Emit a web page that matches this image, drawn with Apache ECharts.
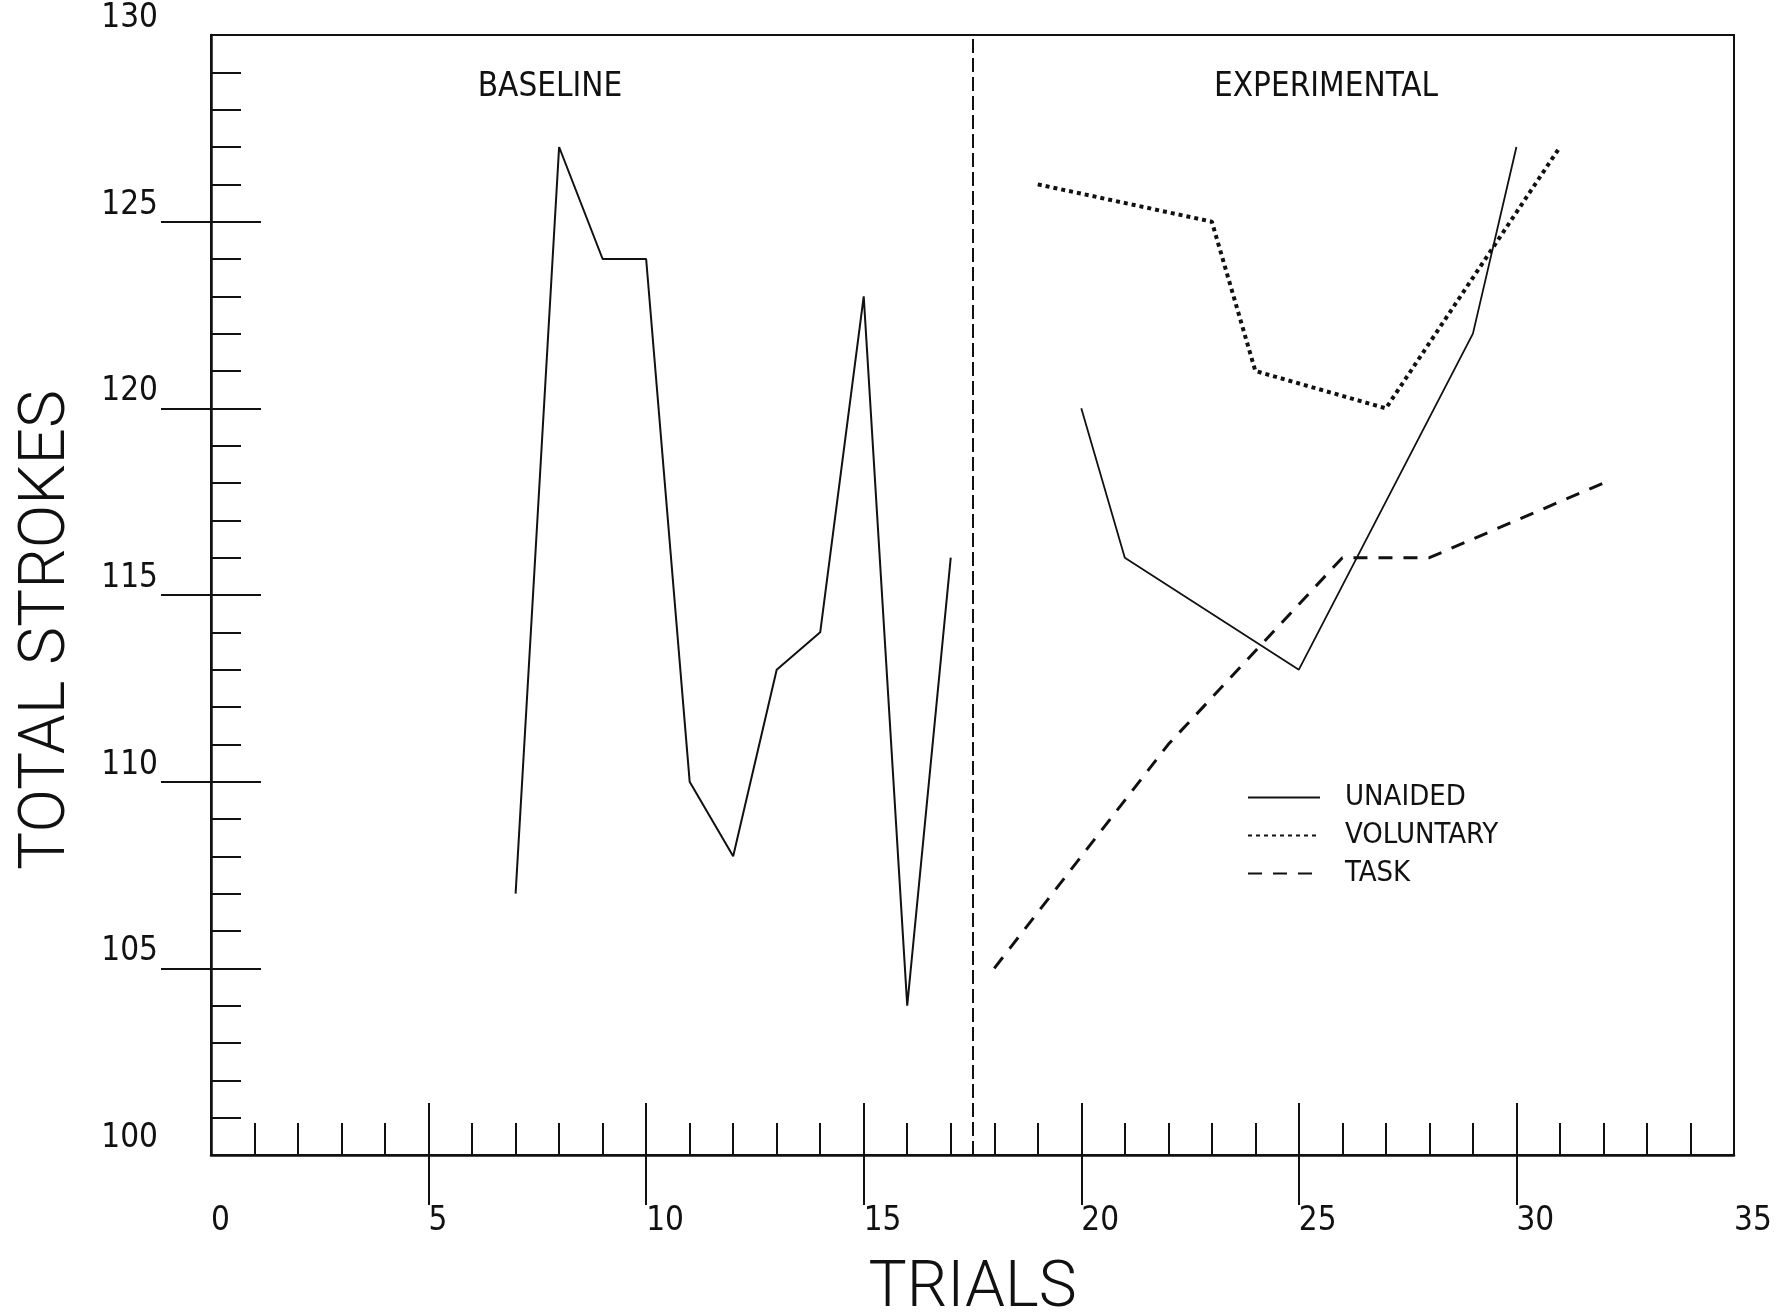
<!DOCTYPE html>
<html>
<head>
<meta charset="utf-8">
<script src="https://cdn.jsdelivr.net/npm/echarts@6/dist/echarts.min.js"></script>
<style>
html,body{margin:0;padding:0;background:#fff;}
#chart{width:1781px;height:1313px;}
</style>
</head>
<body>
<div id="chart"></div>
<script>
// ---- data ----
const trialTickLabels = [0, 5, 10, 15, 20, 25, 30, 35];
const trialMajorTicks = [5, 10, 15, 20, 25, 30];
const strokeTickLabels = [100, 105, 110, 115, 120, 125, 130];
const strokeMajorTicks = [105, 110, 115, 120, 125];

const baselineTrials  = [7, 8, 9, 10, 11, 12, 13, 14, 15, 16, 17];
const baselineStrokes = [107, 127, 124, 124, 110, 108, 113, 114, 123, 104, 116];

const unaidedTrials  = [20, 21, 25, 29, 30];
const unaidedStrokes = [120, 116, 113, 122, 127];

const voluntaryTrials  = [19, 23, 24, 27, 31];
const voluntaryStrokes = [126, 125, 121, 120, 127];

const taskTrials  = [18, 22, 26, 28, 32];
const taskStrokes = [105, 111, 116, 116, 118];

const phaseBoundary = 17.5;
const phaseNames = ['BASELINE', 'EXPERIMENTAL'];
const seriesNames = ['UNAIDED', 'VOLUNTARY', 'TASK'];

// ---- helpers ----
const pairs = (xs, ys) => xs.map((x, i) => [x, ys[i]]);
const NARROW = "'Liberation Sans Narrow','DejaVu Sans Condensed','Arial Narrow',sans-serif";
const THIN = "Roboto, 'DejaVu Sans', sans-serif";
const INK = '#111';

const chart = echarts.init(document.getElementById('chart'), null, {renderer: 'canvas'});

const option = {
  backgroundColor: '#fff',
  animation: false,
  title: [
    {text: phaseNames[0], left: 545, top: 66, textAlign: 'center',
     textStyle: {fontFamily: NARROW, fontSize: 33, fontWeight: 'normal', color: INK}},
    {text: phaseNames[1], left: 1321, top: 66, textAlign: 'center',
     textStyle: {fontFamily: NARROW, fontSize: 33, fontWeight: 'normal', color: INK}}
  ],
  grid: {
    left: 211, top: 35, right: 47, bottom: 158,
    show: true, borderColor: INK, borderWidth: 2, backgroundColor: 'transparent',
    outerBoundsMode: 'none', containLabel: false
  },
  legend: {
    data: seriesNames,
    orient: 'vertical',
    left: 1247, top: 783,
    padding: 0,
    itemWidth: 72, itemHeight: 14, itemGap: 9,
    itemStyle: {opacity: 0},
    textStyle: {fontFamily: NARROW, fontSize: 29, color: INK, padding: [0, 0, 0, 20]},
    inactiveColor: INK
  },
  xAxis: [
    {
      type: 'value', min: 0, max: 35, interval: 5, position: 'bottom',
      name: 'TRIALS', nameLocation: 'middle', nameGap: 103,
      nameTextStyle: {fontFamily: THIN, fontWeight: 300, fontSize: 64, color: INK},
      axisLine: {show: true, onZero: false, lineStyle: {color: INK, width: 2.5}},
      axisTick: {show: true, inside: false, length: 50, customValues: trialMajorTicks,
                 lineStyle: {color: INK, width: 2}},
      axisLabel: {show: true, customValues: trialTickLabels, align: 'left', margin: 50,
                  fontFamily: NARROW, fontSize: 33, color: INK},
      splitLine: {show: false}
    },
    {
      type: 'value', min: 0, max: 35, interval: 5, position: 'bottom',
      axisLine: {show: false, onZero: false},
      axisTick: {show: true, inside: true, length: 52, customValues: trialMajorTicks,
                 lineStyle: {color: INK, width: 2}},
      minorTick: {show: true, splitNumber: 5, length: 32, lineStyle: {color: INK, width: 2}},
      axisLabel: {show: false},
      splitLine: {show: false}
    }
  ],
  yAxis: [
    {
      type: 'value', min: 100, max: 130, interval: 5, position: 'left',
      name: 'TOTAL STROKES', nameLocation: 'middle', nameGap: 131, nameRotate: 90,
      nameTextStyle: {fontFamily: THIN, fontWeight: 300, fontSize: 64, color: INK,
                      padding: [0, 70, 0, 0]},
      axisLine: {show: true, onZero: false, lineStyle: {color: INK, width: 2.5}},
      axisTick: {show: true, inside: false, length: 50, customValues: strokeMajorTicks,
                 lineStyle: {color: INK, width: 2}},
      axisLabel: {show: true, customValues: strokeTickLabels, margin: 53, verticalAlign: 'bottom',
                  fontFamily: NARROW, fontSize: 33, color: INK},
      splitLine: {show: false}
    },
    {
      type: 'value', min: 100, max: 130, interval: 5, position: 'left',
      axisLine: {show: false, onZero: false},
      axisTick: {show: true, inside: true, length: 50, customValues: strokeMajorTicks,
                 lineStyle: {color: INK, width: 2}},
      minorTick: {show: true, splitNumber: 5, length: 30, lineStyle: {color: INK, width: 2}},
      axisLabel: {show: false},
      splitLine: {show: false}
    }
  ],
  series: [
    {
      name: 'BASELINE', type: 'line', xAxisIndex: 0, yAxisIndex: 0,
      data: pairs(baselineTrials, baselineStrokes),
      symbol: 'none', lineStyle: {color: INK, width: 2}, itemStyle: {color: INK},
      markLine: {
        silent: true, symbol: 'none', label: {show: false},
        lineStyle: {color: INK, width: 2, type: [14, 5]},
        data: [{xAxis: phaseBoundary}]
      }
    },
    {
      name: seriesNames[0], type: 'line', xAxisIndex: 0, yAxisIndex: 0,
      data: pairs(unaidedTrials, unaidedStrokes),
      symbol: 'none', lineStyle: {color: INK, width: 1.8}, itemStyle: {color: INK}
    },
    {
      name: seriesNames[1], type: 'line', xAxisIndex: 0, yAxisIndex: 0,
      data: pairs(voluntaryTrials, voluntaryStrokes),
      symbol: 'none', lineStyle: {color: INK, width: 4, type: [4, 4]}, itemStyle: {color: INK}
    },
    {
      name: seriesNames[2], type: 'line', xAxisIndex: 0, yAxisIndex: 0,
      data: pairs(taskTrials, taskStrokes),
      symbol: 'none', lineStyle: {color: INK, width: 3, type: [14, 11]}, itemStyle: {color: INK}
    }
  ]
};
chart.setOption(option);
</script>
</body>
</html>
